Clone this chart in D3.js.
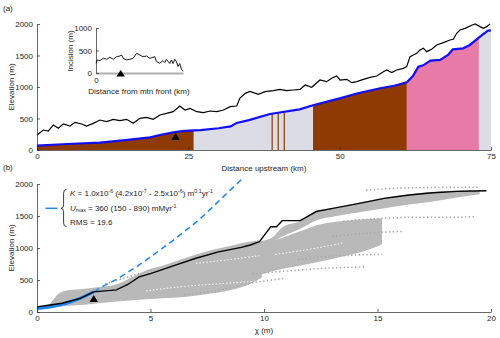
<!DOCTYPE html>
<html>
<head>
<meta charset="utf-8">
<script src="https://cdn.jsdelivr.net/npm/d3@7"></script>
<style>
body { margin: 0; background: #fff; }
svg { display: block; }
</style>
</head>
<body>
<svg id="fig" width="500" height="338"></svg>
<script>
// ---- panel (a): long profile ----
var profKm   = [0, 5, 10.4, 15, 18.7, 20.3, 22.5, 24, 25.8, 27, 30, 32, 33, 35, 38.5, 43.4, 45.6, 50, 53, 56.7, 59, 61.1, 62.1, 63, 63.8, 65, 66.6, 67.9, 68.7, 70.4, 71.5, 73.2, 74.5, 75];
var profElev = [70, 95, 116, 160, 200, 238, 280, 300, 310, 317, 345, 375, 430, 475, 571, 646, 710, 820, 900, 980, 1020, 1075, 1175, 1322, 1344, 1418, 1430, 1508, 1598, 1614, 1667, 1798, 1894, 1900];

var ridgeKm   = [0, 1.05, 1.87, 2.7, 3.52, 4.35, 5.45, 6.28, 7.38, 8.2, 9.3, 10.4, 11.5, 12.6, 13.7, 14.8, 15.9, 17.0, 18.1, 19.2, 20.3, 21.4, 22.5, 23.6, 24.45, 25.3, 26.4, 27.5, 28.6, 29.7, 30.8, 31.9, 33.0, 33.5, 34.4, 35.2, 36.56, 37.67, 39.04, 40.15, 41.25, 42.35, 43.45, 44.28, 45.38, 46.75, 47.86, 48.68, 49.51, 50.06, 51.16, 51.99, 52.82, 53.92, 55.01, 56.12, 57.22, 57.77, 58.6, 59.42, 60.52, 61.07, 61.62, 62.17, 62.73, 63.27, 63.82, 64.38, 65.2, 66.03, 67.13, 68.23, 68.78, 69.33, 69.88, 70.71, 71.53, 72.36, 73.19, 73.73, 74.3, 74.84];
var ridgeElev = [238, 317, 302, 397, 344, 413, 381, 439, 413, 381, 423, 476, 450, 487, 466, 487, 423, 503, 519, 487, 556, 582, 608, 698, 635, 661, 608, 593, 619, 608, 635, 688, 698, 820, 899, 930, 884, 926, 942, 963, 942, 952, 963, 1032, 995, 1111, 1085, 1138, 1175, 1111, 1122, 1069, 1085, 1122, 1153, 1175, 1243, 1270, 1228, 1270, 1296, 1323, 1481, 1508, 1534, 1587, 1614, 1561, 1598, 1667, 1704, 1746, 1757, 1852, 1905, 1931, 1968, 2000, 1958, 1931, 1958, 2000];

// bedrock units under the profile
var unitFrom = [0, 25.9, 38.75, 39.75, 40.75, 45.6, 61.1, 73.0];
var unitTo   = [25.9, 45.6, 38.95, 39.95, 40.95, 61.1, 73.0, 75];
var unitKind = ["brown", "grey", "brown", "brown", "brown", "brown", "pink", "grey"];
var unitColor = { brown: "#8e3a02", grey: "#dcdce7", pink: "#e87aa7" };

var knickKm = 22.9, knickChi = 2.5;

// inset: incision
var incKm  = [0, 1.1, 3.4, 6.3, 9.2, 12.0, 14.9, 17.8, 20.6, 22.1, 23.5, 26.4, 29.2, 32.0, 35.0, 37.8, 40.6, 43.6, 46.4, 50.7, 52.1, 55.0, 57.8, 59.3, 60.7, 63.6, 65.0, 66.4, 67.9, 69.3, 70.7, 72.2, 73.6, 75];
var incVal = [218, 290, 275, 327, 305, 349, 305, 363, 378, 400, 327, 290, 305, 327, 437, 400, 363, 378, 327, 363, 254, 218, 275, 232, 305, 210, 290, 210, 305, 254, 145, 210, 87, 36];

// ---- panel (b): chi plot ----
var trunkChi  = [0, 0.5, 1.1, 1.9, 2.5, 3, 3.5, 4, 4.5, 5, 6, 7, 8, 9, 9.4, 9.8, 10.3, 10.55, 10.8, 11.6, 12.3, 13.2, 14.2, 15.3, 16.4, 17.3, 18.5, 19.8];
var trunkElev = [80, 105, 136, 214, 315, 330, 345, 430, 548, 600, 720, 840, 940, 1010, 1047, 1100, 1333, 1333, 1427, 1427, 1570, 1630, 1698, 1776, 1828, 1860, 1885, 1895];

var fitChi  = [0, 0.5, 1, 1.5, 2, 2.5, 3, 3.5, 4, 4.5, 5, 5.5, 6, 6.5, 7, 7.5, 8, 8.5, 9.1];
var fitElev = [55, 75, 110, 160, 230, 315, 420, 510, 620, 735, 860, 990, 1120, 1260, 1400, 1560, 1730, 1900, 2100];
var fitEnd = 2.5; // fitted reach ends at the knickpoint

// dense tributary clouds: chi, upper, lower elevation
var mainChi = [0.1, 0.5, 0.9, 1.2, 1.9, 2.5, 3.4, 4.5, 4.8, 5.5, 6.6, 7.5, 8.5, 9.4, 9.9];
var mainTop = [75, 110, 270, 330, 355, 380, 420, 600, 650, 720, 850, 950, 1030, 1100, 1120];
var mainBot = [60, 65, 80, 95, 110, 130, 160, 190, 200, 215, 240, 280, 340, 440, 540];

var upChi = [9.6, 10.3, 10.8, 11.6, 12.3, 13.2, 14.2, 15.3, 16.4, 17.3, 18.5, 19.5];
var upTop = [1100, 1150, 1320, 1420, 1570, 1630, 1710, 1790, 1840, 1875, 1900, 1905];
var upBot = [1020, 1090, 1180, 1300, 1430, 1500, 1560, 1620, 1680, 1720, 1790, 1840];

var midChi = [9.3, 10.5, 11.5, 12.5, 13.5, 14.5, 15.2];
var midTop = [1090, 1130, 1250, 1370, 1420, 1450, 1460];
var midBot = [520, 650, 720, 790, 870, 960, 1060];

// sparse tributaries drawn as dotted runs
var sparseChi = [
  [14.5, 16, 17.5, 19.5],
  [13.5, 15, 16.5, 18, 19.3],
  [11.5, 13, 14, 15.2],
  [9.5, 11, 12.5, 14.4],
  [6.5, 8, 9.4, 10.9],
  [13, 14.5, 16.1],
  [3, 4.5]
];
var sparseElev = [
  [1905, 1935, 1945, 1950],
  [1420, 1460, 1480, 1480, 1490],
  [820, 870, 890, 900],
  [600, 640, 680, 705],
  [270, 340, 450, 525],
  [1180, 1230, 1260],
  [440, 600]
];
// gaps inside the cloud
var gapChi  = [[4.8, 6.5, 8, 9.6], [7, 8.5, 9.8], [10.5, 12, 13.5]];
var gapElev = [[330, 400, 440, 480], [760, 820, 880], [900, 980, 1080]];

var elevTicks = [0, 500, 1000, 1500, 2000];
var kmTicks = [0, 25, 50, 75];
var chiTicks = [0, 5, 10, 15, 20];
var incTicks = [0, 500, 1000];

var FONT = "'Liberation Sans', Arial, Helvetica, sans-serif";
var INK = "#262626";
var fmt = d3.format("d");

var svg = d3.select("#fig").attr("font-family", FONT);

var xA = d3.scaleLinear().domain([0, 75]).range([37, 491]);
var yA = d3.scaleLinear().domain([0, 2000]).range([150, 24]);
var xB = d3.scaleLinear().domain([0, 20]).range([37, 491]);
var yB = d3.scaleLinear().domain([0, 2000]).range([312, 184]);
var xI = d3.scaleLinear().domain([0, 75]).range([96, 183]);
var yI = d3.scaleLinear().domain([0, 1000]).range([73, 28]);

function pairs(xs, ys) { return xs.map(function(x, i) { return [x, ys[i]]; }); }

function styleAxis(g) {
  g.attr("font-family", FONT).attr("font-size", 8);
  g.select(".domain").attr("stroke", INK).attr("stroke-width", 0.7);
  g.selectAll(".tick line").attr("stroke", INK).attr("stroke-width", 0.7);
  g.selectAll(".tick text").attr("fill", INK);
}

function triangle(g, cx, baseY, w, h) {
  g.append("path")
    .attr("d", "M" + (cx - w / 2) + "," + baseY + "L" + (cx + w / 2) + "," + baseY + "L" + cx + "," + (baseY - h) + "Z")
    .attr("fill", "#000");
}

// ================= (a) =================
var gA = svg.append("g");
var prof = pairs(profKm, profElev);

var areaA = d3.area().x(d => xA(d[0])).y0(yA(0)).y1(d => yA(d[1]));
var defs = svg.append("defs");
unitFrom.forEach(function(f, i) {
  defs.append("clipPath").attr("id", "unit" + i)
    .append("rect")
    .attr("x", xA(f)).attr("y", 0)
    .attr("width", Math.max(xA(unitTo[i]) - xA(f), 1)).attr("height", 200);
});
// wide units first, then the narrow dykes on top
var order = d3.range(unitFrom.length).sort((a, b) => (unitTo[b] - unitFrom[b]) - (unitTo[a] - unitFrom[a]));
order.forEach(function(i) {
  gA.append("path").datum(prof)
    .attr("d", areaA)
    .attr("fill", unitColor[unitKind[i]])
    .attr("clip-path", "url(#unit" + i + ")");
});

gA.append("path").datum(pairs(ridgeKm, ridgeElev))
  .attr("d", d3.line().x(d => xA(d[0])).y(d => yA(d[1])))
  .attr("fill", "none").attr("stroke", "#000").attr("stroke-width", 1.2);

gA.append("path").datum(prof)
  .attr("d", d3.line().x(d => xA(d[0])).y(d => yA(d[1])))
  .attr("fill", "none").attr("stroke", "#1010f2").attr("stroke-width", 2.2);

triangle(gA, xA(knickKm), 140, 8.5, 7);

gA.append("g").attr("transform", "translate(0," + yA(0) + ")")
  .call(d3.axisBottom(xA).tickValues(kmTicks).tickFormat(fmt).tickSizeInner(-3).tickSizeOuter(0).tickPadding(3))
  .call(styleAxis);
gA.append("g").attr("transform", "translate(" + xA(0) + ",0)")
  .call(d3.axisLeft(yA).tickValues(elevTicks).tickFormat(fmt).tickSizeInner(-3).tickSizeOuter(0).tickPadding(4))
  .call(styleAxis);

gA.append("text").attr("x", 264).attr("y", 171).attr("text-anchor", "middle")
  .attr("font-size", 8).attr("fill", INK).text("Distance upstream (km)");
gA.append("text").attr("transform", "translate(14,87) rotate(-90)").attr("text-anchor", "middle")
  .attr("font-size", 8).attr("fill", INK).text("Elevation (m)");
svg.append("text").attr("x", 3).attr("y", 11).attr("font-size", 8).attr("fill", INK).text("(a)");

// inset
var gI = svg.append("g");
gI.append("g").attr("transform", "translate(0," + yI(0) + ")")
  .call(d3.axisBottom(xI).tickValues([0]).tickFormat(fmt).tickSize(0).tickPadding(4))
  .call(styleAxis)
  .call(g => g.select(".domain").attr("stroke", "#b0b0b0").attr("stroke-width", 2.2));
gI.append("g").attr("transform", "translate(" + xI(0) + ",0)")
  .call(d3.axisLeft(yI).tickValues(incTicks).tickFormat(fmt).tickSizeInner(-3).tickSizeOuter(0).tickPadding(4))
  .call(styleAxis);
gI.append("path").datum(pairs(incKm, incVal))
  .attr("d", d3.line().x(d => xI(d[0])).y(d => yI(d[1])))
  .attr("fill", "none").attr("stroke", "#000").attr("stroke-width", 0.9);
triangle(gI, xI(21.3), yI(0) + 3.5, 8.5, 6.5);
gI.append("text").attr("x", 139).attr("y", 93.5).attr("text-anchor", "middle")
  .attr("font-size", 8).attr("fill", INK).text("Distance from mtn front (km)");
gI.append("text").attr("transform", "translate(73,51) rotate(-90)").attr("text-anchor", "middle")
  .attr("font-size", 8).attr("fill", INK).text("Incision (m)");

// ================= (b) =================
var gB = svg.append("g");
var grey = "#b9b9b9";
function band(xs, top, bot) {
  return xs.map((x, i) => ({ x: x, t: top[i], b: bot[i] }));
}
var areaB = d3.area().curve(d3.curveMonotoneX).x(d => xB(d.x)).y0(d => yB(d.b)).y1(d => yB(d.t));
[band(mainChi, mainTop, mainBot), band(midChi, midTop, midBot), band(upChi, upTop, upBot)].forEach(function(bd) {
  gB.append("path").datum(bd).attr("d", areaB).attr("fill", grey);
});
var lineB = d3.line().curve(d3.curveMonotoneX).x(d => xB(d[0])).y(d => yB(d[1]));
gapChi.forEach(function(c, i) {
  gB.append("path").datum(pairs(c, gapElev[i])).attr("d", lineB)
    .attr("fill", "none").attr("stroke", "#fff").attr("stroke-width", 1).attr("stroke-dasharray", "1.5,2");
});
sparseChi.forEach(function(c, i) {
  gB.append("path").datum(pairs(c, sparseElev[i])).attr("d", lineB)
    .attr("fill", "none").attr("stroke", "#aaa").attr("stroke-width", 1.6).attr("stroke-dasharray", "1.4,2.4");
});

var fit = pairs(fitChi, fitElev);
var lineFit = d3.line().curve(d3.curveMonotoneX).x(d => xB(d[0])).y(d => yB(d[1]));
gB.append("path").datum(fit.filter(d => d[0] >= fitEnd)).attr("d", lineFit)
  .attr("fill", "none").attr("stroke", "#1e84f0").attr("stroke-width", 1.5).attr("stroke-dasharray", "6,4");
gB.append("path").datum(fit.filter(d => d[0] <= fitEnd)).attr("d", lineFit)
  .attr("fill", "none").attr("stroke", "#1e84f0").attr("stroke-width", 3);

gB.append("path").datum(pairs(trunkChi, trunkElev))
  .attr("d", d3.line().x(d => xB(d[0])).y(d => yB(d[1])))
  .attr("fill", "none").attr("stroke", "#000").attr("stroke-width", 1.4);

triangle(gB, xB(knickChi), 302, 8.5, 7);

gB.append("g").attr("transform", "translate(0," + yB(0) + ")")
  .call(d3.axisBottom(xB).tickValues(chiTicks).tickFormat(fmt).tickSizeInner(-3).tickSizeOuter(0).tickPadding(3))
  .call(styleAxis);
gB.append("g").attr("transform", "translate(" + xB(0) + ",0)")
  .call(d3.axisLeft(yB).tickValues(elevTicks).tickFormat(fmt).tickSizeInner(-3).tickSizeOuter(0).tickPadding(4))
  .call(styleAxis);

gB.append("text").attr("x", 264).attr("y", 333).attr("text-anchor", "middle")
  .attr("font-size", 8).attr("fill", INK).text("\u03c7 (m)");
gB.append("text").attr("transform", "translate(14,248) rotate(-90)").attr("text-anchor", "middle")
  .attr("font-size", 8).attr("fill", INK).text("Elevation (m)");
svg.append("text").attr("x", 3).attr("y", 170).attr("font-size", 8).attr("fill", INK).text("(b)");

// legend
gB.append("line").attr("x1", 45.5).attr("x2", 57.5).attr("y1", 208.3).attr("y2", 208.3)
  .attr("stroke", "#1e84f0").attr("stroke-width", 1.5);
gB.append("path")
  .attr("d", "M66.5,189.5 Q63.6,189.5 63.6,193 L63.6,204.8 Q63.6,208.3 61,208.3 Q63.6,208.3 63.6,211.8 L63.6,223 Q63.6,226.5 66.5,226.5")
  .attr("fill", "none").attr("stroke", INK).attr("stroke-width", 0.9);

function richText(y, parts) {
  var t = gB.append("text").attr("x", 70).attr("y", y).attr("font-size", 8).attr("fill", INK);
  var shift = 0;
  parts.forEach(function(p) {
    var want = p.s == "sup" ? -2.8 : p.s == "sub" ? 1.7 : 0;
    var ts = t.append("tspan").attr("dy", want - shift).text(p.t);
    if (p.s) ts.attr("font-size", 5.3);
    if (p.i) ts.attr("font-style", "italic");
    shift = want;
  });
}
richText(196, [{ t: "K", i: true }, { t: " = 1.0x10" }, { t: "-6", s: "sup" }, { t: " (4.2x10" }, { t: "-7", s: "sup" },
  { t: " - 2.5x10" }, { t: "-6", s: "sup" }, { t: ") m" }, { t: "0.1", s: "sup" }, { t: "yr" }, { t: "-1", s: "sup" }]);
richText(210.5, [{ t: "U", i: true }, { t: "max", s: "sub" }, { t: " = 360 (150 - 890) mMyr" }, { t: "-1", s: "sup" }]);
richText(225, [{ t: "RMS = 19.6" }]);
</script>
</body>
</html>
